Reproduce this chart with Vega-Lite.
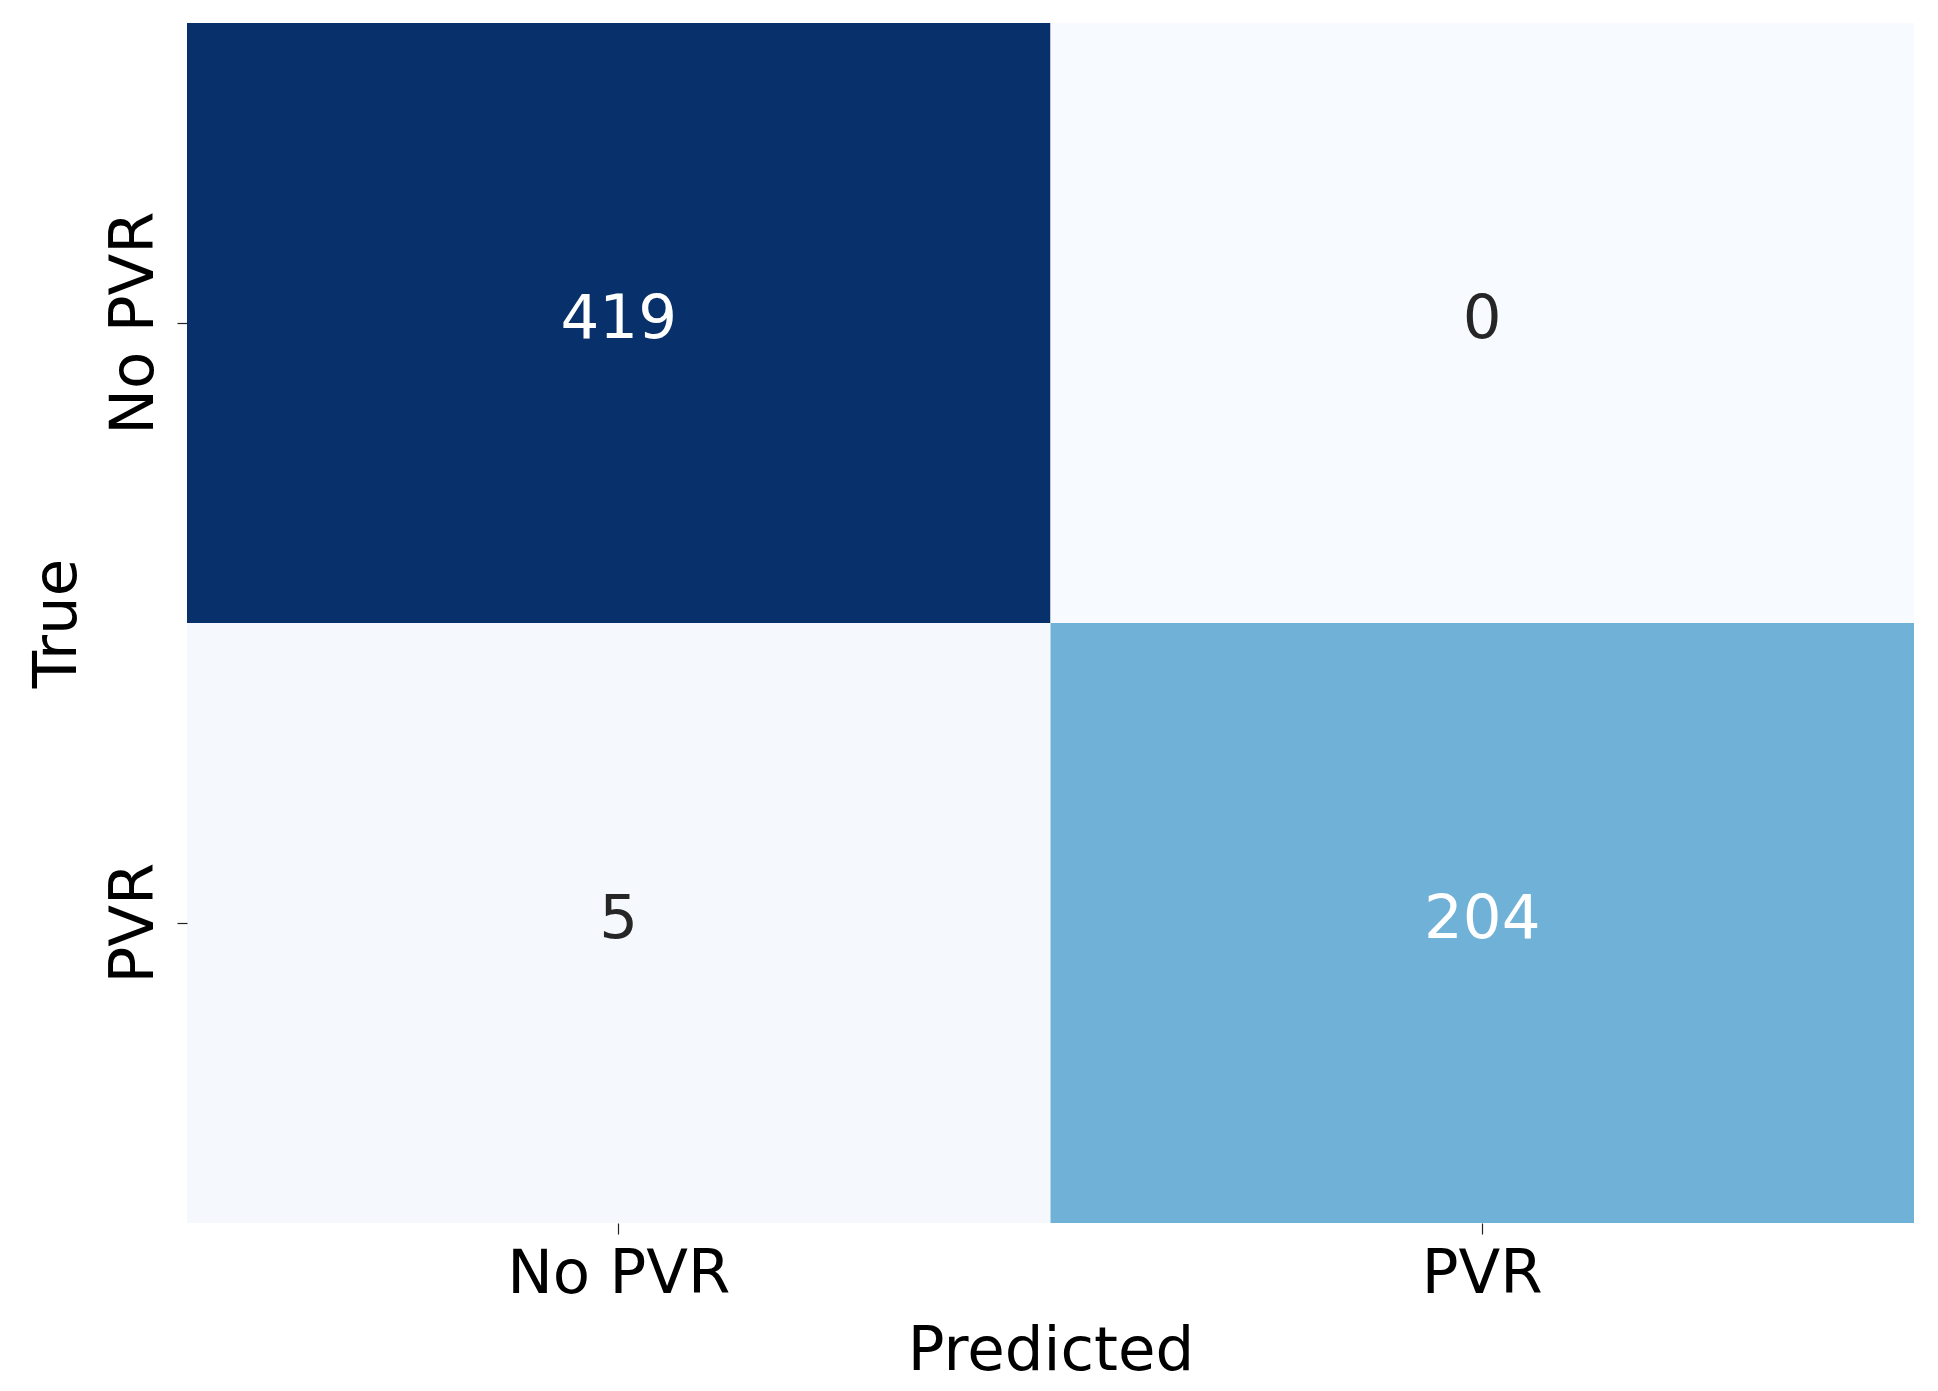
{
  "$schema": "https://vega.github.io/schema/vega-lite/v6.json",
  "autosize": {"type": "none"},
  "padding": {"left": 187, "top": 23, "right": 24, "bottom": 168},
  "width": 1727,
  "height": 1200,
  "background": "#ffffff",
  "config": {
    "view": {"stroke": null},
    "font": "DejaVu Sans"
  },
  "data": {
    "values": [
      {"true_label": "No PVR", "predicted": "No PVR", "count": 419},
      {"true_label": "No PVR", "predicted": "PVR", "count": 0},
      {"true_label": "PVR", "predicted": "No PVR", "count": 5},
      {"true_label": "PVR", "predicted": "PVR", "count": 204}
    ]
  },
  "encoding": {
    "x": {
      "field": "predicted",
      "type": "nominal",
      "sort": ["No PVR", "PVR"],
      "scale": {"paddingInner": 0, "paddingOuter": 0},
      "axis": {
        "title": "Predicted",
        "titleFont": "DejaVu Sans",
        "titleFontSize": 61,
        "titleFontWeight": "normal",
        "titleColor": "#000000",
        "titlePadding": 17,
        "labelFont": "DejaVu Sans",
        "labelFontSize": 61,
        "labelColor": "#000000",
        "labelAngle": 0,
        "labelPadding": 10,
        "labelLimit": 1000,
        "tickSize": 11,
        "tickColor": "#222222",
        "tickWidth": 1.2,
        "domain": false,
        "grid": false
      }
    },
    "y": {
      "field": "true_label",
      "type": "nominal",
      "sort": ["No PVR", "PVR"],
      "scale": {"paddingInner": 0, "paddingOuter": 0},
      "axis": {
        "title": "True",
        "titleFont": "DejaVu Sans",
        "titleFontSize": 61,
        "titleFontWeight": "normal",
        "titleColor": "#000000",
        "titlePadding": 15,
        "labelFont": "DejaVu Sans",
        "labelFontSize": 61,
        "labelColor": "#000000",
        "labelAngle": 270,
        "labelAlign": "center",
        "labelBaseline": "alphabetic",
        "labelPadding": 25,
        "labelLimit": 1000,
        "tickSize": 10,
        "tickColor": "#222222",
        "tickWidth": 1.2,
        "domain": false,
        "grid": false
      }
    }
  },
  "layer": [
    {
      "mark": {"type": "rect", "strokeWidth": 0},
      "encoding": {
        "color": {
          "field": "count",
          "type": "quantitative",
          "legend": null,
          "scale": {
            "domain": [0, 52.375, 104.75, 157.125, 209.5, 261.875, 314.25, 366.625, 419],
            "range": ["#f7fbff", "#deebf7", "#c6dbef", "#9ecae1", "#6baed6", "#4292c6", "#2171b5", "#08519c", "#08306b"],
            "interpolate": "rgb"
          }
        }
      }
    },
    {
      "mark": {"type": "text", "fontSize": 61, "font": "DejaVu Sans", "baseline": "middle", "align": "center", "dy": -3},
      "encoding": {
        "text": {"field": "count", "type": "quantitative"},
        "color": {
          "condition": {"test": "datum.count > 150", "value": "#ffffff"},
          "value": "#262626"
        }
      }
    }
  ]
}
